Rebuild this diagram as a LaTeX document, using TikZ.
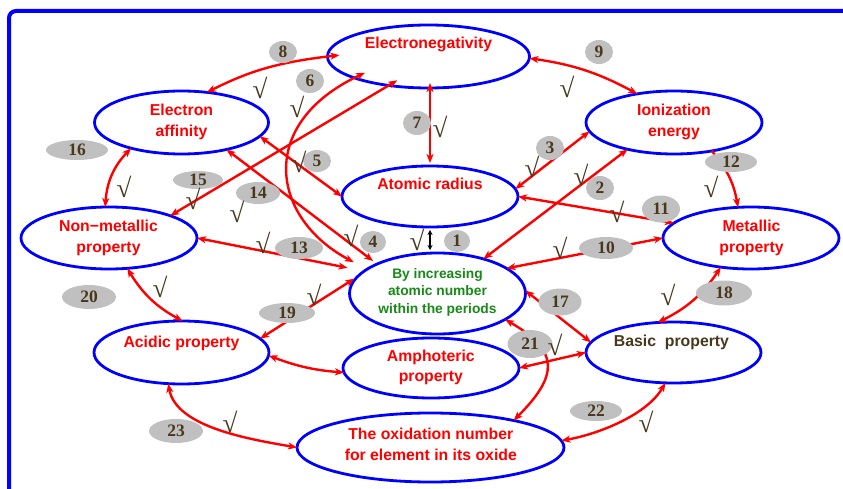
\documentclass[tikz,border=0pt]{standalone}
\usepackage{fontspec}
\setmainfont{Liberation Sans}
\newfontfamily\serifnum{Liberation Serif}
\usetikzlibrary{shapes.geometric,arrows.meta}

\definecolor{pureblue}{RGB}{0,0,255}
\definecolor{purered}{RGB}{255,0,0}
\definecolor{leafgreen}{RGB}{24,138,24}
\definecolor{numbrown}{RGB}{72,56,28}
\definecolor{tagfill}{RGB}{192,192,192}

\tikzset{
  bub/.style={ellipse, draw=pureblue, line width=2.8pt, fill=white,
    inner sep=0pt, outer sep=0pt},
  redtxt/.style={text=purered, align=center, inner sep=0pt,
    font=\fontsize{15.8}{21}\selectfont\bfseries},
  greentxt/.style={text=leafgreen, align=center, inner sep=0pt,
    font=\fontsize{13.8}{17.5}\selectfont\bfseries},
  browntxt/.style={text=numbrown, align=center, inner sep=0pt,
    font=\fontsize{15.8}{21}\selectfont\bfseries},
  tag/.style={ellipse, fill=tagfill, inner sep=0pt, text=numbrown,
    font=\serifnum\fontsize{17.5}{18}\selectfont\bfseries},
  chk/.style={inner sep=0pt, text=numbrown,
    font=\serifnum\fontsize{27}{28}\selectfont\bfseries},
  link/.style={purered, line width=2.4pt, <->},
  blk/.style={black, line width=1.8pt,
    arrows={Stealth[length=5pt,width=5pt]-Stealth[length=5pt,width=5pt]}},
}

\begin{document}
\begin{tikzpicture}[x=1pt, y=-1pt,
  >={Stealth[length=9pt,width=7pt,inset=2.5pt]}]
\useasboundingbox (0,0) rectangle (843,489);

% outer frame
\draw[pureblue, line width=4pt, rounded corners=7pt] (9,500) |- (852,11);

% property ellipses
\node[bub, minimum width=202pt, minimum height=63pt] (EN) at (428.5,56.5) {};
\node[bub, minimum width=174pt, minimum height=63pt] (EA) at (181.5,122.5) {};
\node[bub, minimum width=176pt, minimum height=63pt] (IE) at (674,122.5) {};
\node[bub, minimum width=176pt, minimum height=61pt] (AR) at (430,196.5) {};
\node[bub, minimum width=176pt, minimum height=62pt] (NM) at (109,238) {};
\node[bub, minimum width=176pt, minimum height=62pt] (MP) at (751,238) {};
\node[bub, minimum width=176pt, minimum height=81pt] (BI) at (437.5,293.5) {};
\node[bub, minimum width=175pt, minimum height=63pt] (AC) at (181.5,352.5) {};
\node[bub, minimum width=176pt, minimum height=60pt] (AM) at (431,368) {};
\node[bub, minimum width=175pt, minimum height=61pt] (BP) at (673.5,352.5) {};
\node[bub, minimum width=267pt, minimum height=69pt] (OX) at (430.5,447.5) {};

% relations between the properties
\draw[link, shorten >=-12pt] (EA.50) to[bend left=10] (EN.180);
\draw[link] (EN.-1) to[bend left=10] (IE.142);
\draw[link, shorten <=-5pt, shorten >=3pt] (AR.north |- EN.south) -- (AR.north);
\draw[link, shorten <=-12pt, shorten >=15pt] (EN.196) to[out=205, in=152, looseness=1.45] (BI.161);
\draw[link, shorten >=-10pt] (NM.20) -- (EN.216);
\draw[link, shorten >=5pt] (EA.-31) -- (BI.154);
\draw[link] (EA.-10) -- (AR.180);
\draw[link] (EA.207) to[bend right=20] (NM.97);
\draw[link, shorten >=17pt] (NM.0) -- (BI.163);
\draw[link] (NM.-59) to[bend right=15] (AC.88);
\draw[link, shorten >=4pt] (AC.10) -- (BI.168);
\draw[link] (AC.-2) to[bend right=8] (AM.183);
\draw[link] (AC.247) to[out=-80, in=170, looseness=0.8] (OX.180);
\draw[link] (BP.255) to[out=-120, in=10, looseness=0.8] (OX.3);
\draw[link] (BI.-21) to[out=-30, in=45, looseness=1.6] (OX.18);
\draw[link] (AM.0) -- (BP.180);
\draw[link] (BI.2) -- (BP.173);
\draw[link] (MP.224) to[bend left=15] (BP.118);
\draw[link] (MP.180) -- (BI.20);
\draw[link] (MP.169) -- (AR.0);
\draw[link] (BI.37) -- (IE.210);
\draw[link] (AR.5) -- (IE.186);
\draw[link, ->] (IE.-37) to[bend left=15] (MP.113);
\draw[blk, shorten <=3pt, shorten >=3pt] (AR.south) -- (AR.south |- BI.north);

% numbered tags
\node[tag, minimum width=28pt, minimum height=22pt] (t8) at (283,52) {8};
\node[tag, minimum width=28pt, minimum height=24pt] (t6) at (310,81) {6};
\node[tag, minimum width=62pt, minimum height=20pt] (t16) at (77,150) {16};
\node[tag, minimum width=28pt, minimum height=24pt] (t9) at (599,52) {9};
\node[tag, minimum width=28pt, minimum height=24pt] (t7) at (417,123) {7};
\node[tag, minimum width=28pt, minimum height=22pt] (t5) at (317,161) {5};
\node[tag, minimum width=28pt, minimum height=24pt] (t3) at (550,148) {3};
\node[tag, minimum width=52pt, minimum height=20pt] (t12) at (731,162) {12};
\node[tag, minimum width=28pt, minimum height=24pt] (t2) at (600,188) {2};
\node[tag, minimum width=50pt, minimum height=18pt] (t15) at (198,180) {15};
\node[tag, minimum width=44pt, minimum height=22pt] (t14) at (258,193) {14};
\node[tag, minimum width=38pt, minimum height=27pt] (t11) at (661,209) {11};
\node[tag, minimum width=48pt, minimum height=22pt] (t13) at (299,248) {13};
\node[tag, minimum width=26pt, minimum height=22pt] (t4) at (373,242) {4};
\node[tag, minimum width=26pt, minimum height=22pt] (t1) at (457,241) {1};
\node[tag, minimum width=54pt, minimum height=22pt] (t10) at (606,248) {10};
\node[tag, minimum width=54pt, minimum height=24pt] (t20) at (89,297) {20};
\node[tag, minimum width=56pt, minimum height=25pt] (t18) at (724,293) {18};
\node[tag, minimum width=43pt, minimum height=27pt] (t17) at (560,302) {17};
\node[tag, minimum width=56pt, minimum height=20pt] (t19) at (287,313) {19};
\node[tag, minimum width=45pt, minimum height=28pt] (t21) at (530,344) {21};
\node[tag, minimum width=52pt, minimum height=20pt] (t22) at (596,411) {22};
\node[tag, minimum width=54pt, minimum height=24pt] (t23) at (176,431) {23};

% check marks
\node[chk] (k8) at (260,88) {√};
\node[chk] (k6) at (297,107) {√};
\node[chk] (k9) at (567,87) {√};
\node[chk] (k7) at (440,127) {√};
\node[chk] (k5) at (299,162) {√};
\node[chk] (k16) at (124,187) {√};
\node[chk] (k15) at (193,199) {√};
\node[chk] (k14) at (237,212) {√};
\node[chk] (k13) at (263,243) {√};
\node[chk] (k4) at (351,236) {√};
\node[chk] (k1) at (417,240) {√};
\node[chk] (k3) at (532,167) {√};
\node[chk] (k2) at (581,175) {√};
\node[chk] (k12) at (711,187) {√};
\node[chk] (k11) at (617,212) {√};
\node[chk] (k10) at (560,248) {√};
\node[chk] (k20) at (160,287) {√};
\node[chk] (k19) at (314,295) {√};
\node[chk] (k18) at (668,295) {√};
\node[chk] (k21) at (555,345) {√};
\node[chk] (k23) at (230,422) {√};
\node[chk] (k22) at (646,422) {√};

% property names
\node[redtxt, anchor=base] (ENtext) at (428.5,49) {Electronegativity};
\node[redtxt] (EAtext) at (181.5,122.1) {Electron\\affinity};
\node[redtxt] (IEtext) at (674,122.1) {Ionization\\energy};
\node[redtxt, anchor=base] (ARtext) at (430,190) {Atomic radius};
\node[redtxt] (NMtext) at (108.5,238.1) {Non−metallic\\property};
\node[redtxt] (MPtext) at (751.5,238.1) {Metallic\\property};
\node[greentxt] (BItext) at (437.5,292.3) {By increasing\\atomic number\\within the periods};
\node[redtxt, anchor=base] (ACtext) at (181.5,347) {Acidic property};
\node[redtxt] (AMtext) at (430.8,367.6) {Amphoteric\\[-1pt]property};
\node[browntxt, anchor=base] (BPtext) at (671.5,346) {Basic\ \ property};
\node[redtxt] (OXtext) at (430.8,443.9) {The oxidation number\\for element in its oxide};
\end{tikzpicture}
\end{document}
